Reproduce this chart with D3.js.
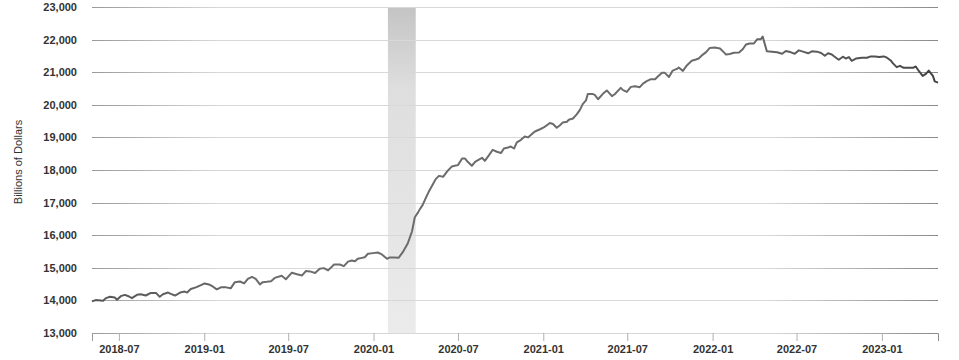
<!DOCTYPE html>
<html>
<head>
<meta charset="utf-8">
<script src="https://cdn.jsdelivr.net/npm/d3@7"></script>
<style>
  body { margin: 0; background: #fff; }
  text { font-family: "Liberation Sans", Arial, sans-serif; }
</style>
</head>
<body>
<div id="chart"></div>
<script>
var dates = [
  "2018-05-04","2018-05-12","2018-05-28","2018-06-03","2018-06-12","2018-06-22","2018-06-27","2018-07-05",
  "2018-07-14","2018-07-23","2018-07-29","2018-08-09","2018-08-17","2018-08-28","2018-09-08","2018-09-19",
  "2018-09-27","2018-10-04","2018-10-15","2018-10-21","2018-10-30","2018-11-10","2018-11-20","2018-11-25",
  "2018-12-03","2018-12-14","2018-12-25","2019-01-02","2019-01-11","2019-01-20","2019-01-28","2019-02-06",
  "2019-02-17","2019-02-27","2019-03-08","2019-03-19","2019-03-28","2019-04-05","2019-04-14","2019-04-22",
  "2019-05-01","2019-05-07","2019-05-16","2019-05-25","2019-06-02","2019-06-17","2019-06-26","2019-07-09",
  "2019-07-20","2019-07-31","2019-08-08","2019-08-17","2019-08-28","2019-09-07","2019-09-16","2019-09-25",
  "2019-10-08","2019-10-20","2019-10-29","2019-11-07","2019-11-15","2019-11-22","2019-11-28","2019-12-07",
  "2019-12-13","2019-12-20","2019-12-31","2020-01-10","2020-01-19","2020-01-30","2020-02-04","2020-02-15",
  "2020-02-24","2020-03-04","2020-03-15","2020-03-24","2020-03-30","2020-04-06","2020-04-10","2020-04-16",
  "2020-04-23","2020-04-29","2020-05-08","2020-05-14","2020-05-21","2020-05-30","2020-06-07","2020-06-18",
  "2020-06-24","2020-07-01","2020-07-10","2020-07-16","2020-07-22","2020-07-31","2020-08-07","2020-08-17",
  "2020-08-22","2020-08-28","2020-09-06","2020-09-14","2020-09-23","2020-10-02","2020-10-08","2020-10-17",
  "2020-10-23","2020-10-30","2020-11-05","2020-11-14","2020-11-22","2020-11-29","2020-12-07","2020-12-14",
  "2020-12-25","2021-01-02","2021-01-09","2021-01-15","2021-01-22","2021-01-30","2021-02-06","2021-02-12",
  "2021-02-21","2021-02-25","2021-03-06","2021-03-14","2021-03-21","2021-03-27","2021-04-03","2021-04-07",
  "2021-04-18","2021-04-22","2021-04-29","2021-05-10","2021-05-18","2021-05-29","2021-06-04","2021-06-17",
  "2021-06-22","2021-06-30","2021-07-09","2021-07-18","2021-07-28","2021-08-04","2021-08-12","2021-08-21",
  "2021-08-30","2021-09-05","2021-09-14","2021-09-20","2021-09-29","2021-10-07","2021-10-16","2021-10-20",
  "2021-10-29","2021-11-07","2021-11-17","2021-11-26","2021-12-02","2021-12-11","2021-12-18","2021-12-26",
  "2022-01-06","2022-01-17","2022-01-23","2022-01-30","2022-02-07","2022-02-16","2022-02-27","2022-03-07",
  "2022-03-14","2022-03-22","2022-03-31","2022-04-07","2022-04-15","2022-04-19","2022-04-28","2022-05-09",
  "2022-05-20","2022-05-31","2022-06-08","2022-06-19","2022-06-27","2022-07-06","2022-07-15","2022-07-26",
  "2022-08-03","2022-08-14","2022-08-23","2022-08-31","2022-09-07","2022-09-15","2022-09-24","2022-09-30",
  "2022-10-09","2022-10-15","2022-10-22","2022-10-28","2022-11-06","2022-11-19","2022-11-30","2022-12-08",
  "2022-12-17","2022-12-26","2023-01-05","2023-01-12","2023-01-20","2023-01-25","2023-02-02","2023-02-09",
  "2023-02-17","2023-02-26","2023-03-09","2023-03-15","2023-03-22","2023-03-30","2023-04-06","2023-04-12",
  "2023-04-21","2023-04-25","2023-05-02"
];
var values = [
  13970,14010,13990,14070,14110,14090,14020,14130,
  14170,14120,14070,14170,14190,14150,14230,14230,
  14110,14190,14240,14200,14150,14240,14270,14240,
  14350,14400,14470,14520,14490,14420,14340,14400,
  14400,14370,14560,14580,14520,14660,14720,14660,
  14490,14560,14570,14585,14690,14755,14650,14850,
  14800,14765,14900,14890,14840,14970,14990,14920,
  15100,15100,15050,15190,15225,15200,15275,15305,
  15325,15430,15450,15470,15410,15275,15315,15315,
  15305,15480,15755,16120,16550,16700,16800,16930,
  17150,17330,17565,17720,17820,17790,17945,18110,
  18130,18150,18355,18355,18250,18130,18250,18335,
  18375,18280,18455,18620,18560,18520,18660,18690,
  18720,18660,18845,18925,19030,19000,19100,19180,
  19250,19305,19375,19440,19410,19295,19375,19460,
  19480,19540,19580,19705,19845,20020,20135,20330,
  20330,20305,20170,20345,20440,20265,20325,20520,
  20450,20395,20550,20570,20540,20650,20725,20785,
  20785,20865,20980,20980,20855,21050,21100,21145,
  21040,21215,21350,21390,21420,21540,21615,21745,
  21755,21725,21645,21540,21560,21595,21605,21705,
  21850,21880,21880,22010,22010,22095,21640,21630,
  21610,21565,21650,21610,21565,21670,21630,21580,
  21640,21630,21590,21505,21580,21545,21445,21380,
  21475,21420,21465,21350,21420,21445,21445,21485,
  21485,21465,21485,21445,21360,21270,21155,21195,
  21135,21135,21135,21175,21030,20885,20950,21050,
  20885,20720,20680
];
var recession = ["2020-02-01", "2020-04-01"];
var yTicks = [13000,14000,15000,16000,17000,18000,19000,20000,21000,22000,23000];
var yLabel = "Billions of Dollars";

var margin = {top: 7, right: 21, bottom: 27, left: 92},
    width = 959 - margin.left - margin.right,
    height = 360 - margin.top - margin.bottom;

var parseDate = d3.timeParse("%Y-%m-%d");
var data = dates.map(function(d, i) { return {date: parseDate(d), value: values[i]}; });

var svg = d3.select("#chart")
  .append("svg")
    .attr("width", 959)
    .attr("height", 360);

var defs = svg.append("defs");

// gridlines darken towards the edges
var gridGrad = defs.append("linearGradient")
  .attr("id", "gridGrad")
  .attr("gradientUnits", "userSpaceOnUse")
  .attr("x1", 0).attr("x2", width).attr("y1", 0).attr("y2", 0);
gridGrad.append("stop").attr("offset", "0").attr("stop-color", "#9a9a9a");
gridGrad.append("stop").attr("offset", "0.15").attr("stop-color", "#d8d8d8");
gridGrad.append("stop").attr("offset", "0.8").attr("stop-color", "#d8d8d8");
gridGrad.append("stop").attr("offset", "1").attr("stop-color", "#8a8a8a");

var lineGrad = defs.append("linearGradient")
  .attr("id", "lineGrad")
  .attr("gradientUnits", "userSpaceOnUse")
  .attr("x1", 0).attr("x2", width).attr("y1", 0).attr("y2", 0);
lineGrad.append("stop").attr("offset", "0").attr("stop-color", "#555");
lineGrad.append("stop").attr("offset", "0.2").attr("stop-color", "#6c6c6c");
lineGrad.append("stop").attr("offset", "0.75").attr("stop-color", "#6c6c6c");
lineGrad.append("stop").attr("offset", "1").attr("stop-color", "#444");

var recGrad = defs.append("linearGradient")
  .attr("id", "recGrad")
  .attr("x1", 0).attr("x2", 0).attr("y1", 0).attr("y2", 1);
recGrad.append("stop").attr("offset", "0").attr("stop-color", "#c4c4c4");
recGrad.append("stop").attr("offset", "0.25").attr("stop-color", "#dedede");
recGrad.append("stop").attr("offset", "1").attr("stop-color", "#ebebeb");

var g = svg.append("g")
  .attr("transform", "translate(" + margin.left + "," + margin.top + ")");

var x = d3.scaleTime()
  .domain(d3.extent(data, function(d) { return d.date; }))
  .range([0, width]);
var y = d3.scaleLinear()
  .domain([yTicks[0], yTicks[yTicks.length - 1]])
  .range([height, 0]);

// recession shading
g.append("rect")
  .attr("x", x(parseDate(recession[0])))
  .attr("y", 0)
  .attr("width", x(parseDate(recession[1])) - x(parseDate(recession[0])))
  .attr("height", height)
  .attr("fill", "url(#recGrad)");

// horizontal gridlines
g.append("g")
  .selectAll("line")
  .data(yTicks)
  .enter().append("line")
    .attr("x1", 0)
    .attr("x2", width)
    .attr("y1", function(d) { return Math.round(y(d)) + 0.5; })
    .attr("y2", function(d) { return Math.round(y(d)) + 0.5; })
    .attr("stroke", "url(#gridGrad)")
    .attr("stroke-width", 1);

// y axis labels
var yAxis = g.append("g")
  .call(d3.axisLeft(y).tickValues(yTicks).tickSize(0).tickPadding(15).tickFormat(d3.format(",")));
yAxis.select(".domain").remove();
yAxis.selectAll("text")
  .attr("fill", "#333")
  .style("font-size", "11px")
  .style("font-weight", "bold");

// x axis
var xAxis = g.append("g")
  .attr("transform", "translate(0," + height + ")")
  .call(d3.axisBottom(x).ticks(d3.timeMonth.every(6)).tickFormat(d3.timeFormat("%Y-%m")).tickSize(8).tickPadding(4));
xAxis.select(".domain").attr("stroke", "url(#gridGrad)");
xAxis.selectAll(".tick line").attr("stroke", "#b0b0b0");
xAxis.selectAll("text")
  .attr("fill", "#333")
  .style("font-size", "11px")
  .style("font-weight", "bold");

// y axis title
svg.append("text")
  .attr("transform", "rotate(-90)")
  .attr("x", -(margin.top + height / 2) + 8)
  .attr("y", 22)
  .attr("text-anchor", "middle")
  .attr("fill", "#333")
  .style("font-size", "11px")
  .text(yLabel);

// series
var line = d3.line()
  .x(function(d) { return x(d.date); })
  .y(function(d) { return y(d.value); });

g.append("path")
  .datum(data)
  .attr("fill", "none")
  .attr("stroke", "url(#lineGrad)")
  .attr("stroke-width", 2)
  .attr("stroke-linejoin", "round")
  .attr("d", line);
</script>
</body>
</html>
